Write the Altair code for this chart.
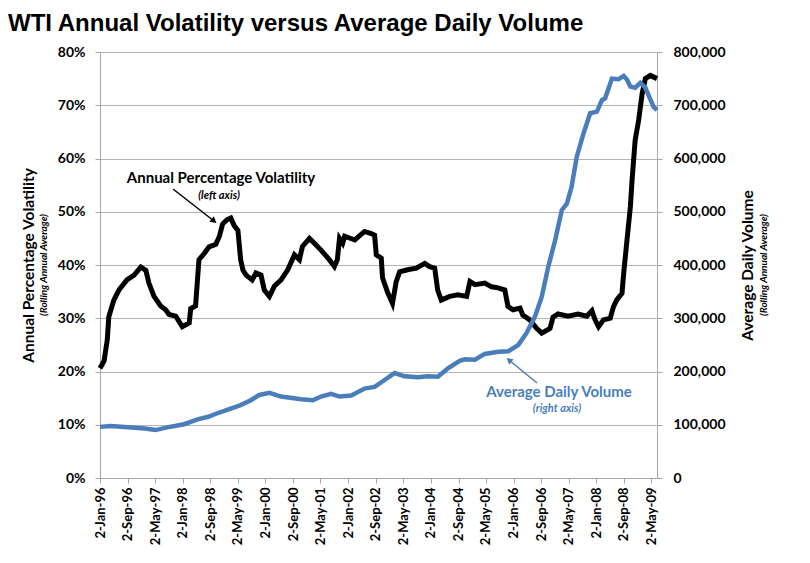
import altair as alt
import pandas as pd

# ---------------- data ----------------
vol_dates = [
    "1996-01-02", "1996-02-07", "1996-03-06", "1996-03-20", "1996-05-03", "1996-06-17",
    "1996-08-27", "1996-10-29", "1996-12-27", "1997-02-10", "1997-03-09", "1997-04-23",
    "1997-06-21", "1997-08-04", "1997-09-03", "1997-11-01", "1997-12-29", "1998-02-28",
    "1998-03-13", "1998-04-25", "1998-05-25", "1998-07-09", "1998-08-22", "1998-10-21",
    "1998-11-20", "1998-12-20", "1999-01-29", "1999-03-02", "1999-04-01", "1999-05-04",
    "1999-05-28", "1999-06-18", "1999-07-15", "1999-09-07", "1999-10-10", "1999-11-24",
    "1999-12-23", "2000-02-06", "2000-03-20", "2000-05-19", "2000-07-17", "2000-09-14",
    "2000-10-28", "2000-11-24", "2001-01-25", "2001-03-09", "2001-05-07", "2001-07-19",
    "2001-09-02", "2001-09-28", "2001-10-17", "2001-11-14", "2001-12-02", "2002-03-01",
    "2002-05-26", "2002-07-24", "2002-08-23", "2002-09-07", "2002-10-21", "2002-11-01",
    "2002-12-15", "2003-01-28", "2003-03-01", "2003-04-01", "2003-06-10", "2003-08-26",
    "2003-11-09", "2003-12-22", "2004-02-05", "2004-03-02", "2004-04-03", "2004-06-16",
    "2004-08-27", "2004-11-13", "2004-12-12", "2005-01-25", "2005-04-22", "2005-06-21",
    "2005-08-19", "2005-10-16", "2005-11-13", "2005-12-28", "2006-02-28", "2006-03-24",
    "2006-05-25", "2006-07-24", "2006-09-07", "2006-11-19", "2006-12-16", "2007-01-29",
    "2007-04-27", "2007-07-25", "2007-10-10", "2007-11-24", "2007-12-22", "2008-01-22",
    "2008-03-05", "2008-05-04", "2008-06-02", "2008-07-02", "2008-08-16", "2008-08-31",
    "2008-09-29", "2008-10-29", "2008-11-13", "2008-12-10", "2009-01-10", "2009-02-10",
    "2009-03-10", "2009-04-23", "2009-06-21",
]
vol_pct = [
    20.6, 22.0, 25.9, 30.3, 33.4, 35.3,
    37.2, 38.1, 39.6, 39.0, 36.6, 34.1,
    32.3, 31.6, 30.7, 30.4, 28.4, 29.1,
    31.8, 32.3, 41.0, 42.1, 43.4, 43.9,
    45.3, 47.7, 48.5, 48.8, 47.4, 46.5,
    41.0, 39.0, 38.1, 37.2, 38.5, 38.1,
    35.3, 34.1, 36.0, 37.2, 39.1, 41.9,
    41.0, 43.5, 45.0, 44.1, 42.8, 41.0,
    39.7, 41.0, 45.0, 44.1, 45.4, 44.7,
    46.3, 45.9, 45.6, 41.9, 41.3, 37.6,
    34.9, 32.8, 36.8, 38.7, 39.1, 39.4,
    40.3, 39.7, 39.4, 35.3, 33.4, 34.1,
    34.4, 34.1, 36.9, 36.3, 36.6, 35.9,
    35.7, 35.3, 32.2, 31.6, 31.9, 30.6,
    29.7, 28.1, 27.2, 28.1, 30.2, 30.8,
    30.4, 30.8, 30.4, 31.4, 29.7, 28.4,
    29.7, 30.0, 32.2, 33.5, 34.7, 38.5,
    44.7, 51.0, 56.0, 63.4, 67.2, 72.2,
    75.0, 75.6, 75.0,
]

adv_dates = [
    "1996-01-02", "1996-04-04", "1996-09-05", "1997-01-30", "1997-05-06", "1997-08-17",
    "1998-01-14", "1998-05-13", "1998-08-15", "1998-11-20", "1999-01-04", "1999-05-28",
    "1999-08-26", "1999-11-09", "2000-02-06", "2000-05-19", "2000-11-13", "2001-02-24",
    "2001-05-07", "2001-08-04", "2001-10-17", "2002-01-29", "2002-05-26", "2002-08-23",
    "2002-11-19", "2003-02-16", "2003-05-14", "2003-09-10", "2003-12-07", "2004-03-04",
    "2004-06-01", "2004-09-13", "2004-10-28", "2005-01-25", "2005-04-22", "2005-08-19",
    "2005-11-16", "2006-02-13", "2006-04-25", "2006-07-09", "2006-09-07", "2006-11-04",
    "2007-01-04", "2007-03-03", "2007-04-17", "2007-05-29", "2007-07-13", "2007-09-11",
    "2007-11-09", "2008-01-07", "2008-02-22", "2008-03-20", "2008-05-04", "2008-05-19",
    "2008-07-17", "2008-08-31", "2008-09-30", "2008-10-29", "2008-12-10", "2009-01-25",
    "2009-03-10", "2009-04-07", "2009-05-22", "2009-06-21",
]
adv_volume = [
    96000, 97500, 95500, 93000, 90000, 95000,
    101000, 110000, 115000, 123000, 126000, 137000,
    146000, 156000, 160000, 153000, 148000, 146000,
    153000, 158000, 153000, 155000, 168000, 171000,
    184000, 197000, 191000, 189000, 191000, 190000,
    206000, 220000, 223000, 222000, 233000, 237000,
    238000, 250000, 272000, 303000, 340000, 397000,
    447000, 503000, 515000, 547000, 603000, 647000,
    685000, 688000, 710000, 713000, 741000, 750000,
    749000, 755000, 748000, 735000, 733000, 742000,
    733000, 719000, 697000, 691000,
]

x_tick_dates = [
    "1996-01-02", "1996-09-02", "1997-05-02", "1998-01-02", "1998-09-02", "1999-05-02",
    "2000-01-02", "2000-09-02", "2001-05-02", "2002-01-02", "2002-09-02", "2003-05-02",
    "2004-01-02", "2004-09-02", "2005-05-02", "2006-01-02", "2006-09-02", "2007-05-02",
    "2008-01-02", "2008-09-02", "2009-05-02",
]
x_domain = ["1996-01-02", "2009-06-21"]
pct_ticks = [0, 10, 20, 30, 40, 50, 60, 70, 80]
volume_ticks = [0, 100000, 200000, 300000, 400000, 500000, 600000, 700000, 800000]

title_text = "WTI Annual Volatility versus Average Daily Volume"
left_title = "Annual Percentage Volatility"
right_title = "Average Daily Volume"
sub_title = "(Rolling Annual Average)"
vol_label = ["Annual Percentage Volatility", "(left axis)"]
adv_label = ["Average Daily Volume", "(right axis)"]

# ---------------- chart ----------------
BLUE = "#4A7EBB"
GRID = "#b4b4b4"
AX = "#a6a6a6"
FONT = "Lato"
W, H = 557, 426


def dt(s):
    y, m, d = (int(v) for v in s.split("-"))
    return alt.DateTime(year=y, month=m, date=d, utc=True)


vol_df = pd.DataFrame({"date": vol_dates, "pct": vol_pct})
adv_df = pd.DataFrame({"date": adv_dates, "volume": adv_volume})

x_axis = alt.Axis(
    values=[dt(s) for s in x_tick_dates],
    format="%-d-%b-%y",
    labelAngle=-90,
    labelFont=FONT,
    labelFontWeight="bold",
    labelFontSize=13,
    labelColor="black",
    labelPadding=4,
    tickSize=5,
    tickColor=AX,
    domainColor=AX,
    grid=False,
    labelOverlap=False,
    labelFlush=False,
)
x_scale = alt.Scale(type="utc", domain=[dt(s) for s in x_domain])

vol_line = alt.Chart(vol_df).mark_line(color="black", strokeWidth=5).encode(
    x=alt.X("date:T", title=None, scale=x_scale, axis=x_axis),
    y=alt.Y(
        "pct:Q",
        scale=alt.Scale(domain=[0, 80], nice=False),
        axis=alt.Axis(
            values=pct_ticks,
            labelExpr="datum.value + '%'",
            title=left_title,
            titleFont=FONT,
            titleFontSize=15.5,
            titleFontWeight="bold",
            titleColor="black",
            titleX=-72,
            titleY=H / 2,
            titleAngle=270,
            titleAlign="center",
            titleBaseline="middle",
            labelFont=FONT,
            labelFontSize=14,
            labelFontWeight="bold",
            labelColor="black",
            labelPadding=10,
            tickSize=5,
            tickColor=AX,
            domainColor=AX,
            grid=True,
            gridColor=GRID,
            gridWidth=1,
        ),
    ),
)

adv_line = alt.Chart(adv_df).mark_line(color=BLUE, strokeWidth=4.5).encode(
    x=alt.X("date:T", title=None, scale=x_scale, axis=x_axis),
    y=alt.Y(
        "volume:Q",
        scale=alt.Scale(domain=[0, 800000], nice=False),
        axis=alt.Axis(
            orient="right",
            values=volume_ticks,
            format=",d",
            title=right_title,
            titleFont=FONT,
            titleFontSize=15.5,
            titleFontWeight="bold",
            titleColor="black",
            titleX=90,
            titleY=H / 2,
            titleAngle=270,
            titleAlign="center",
            titleBaseline="middle",
            labelFont=FONT,
            labelFontSize=14,
            labelFontWeight="bold",
            labelColor="black",
            labelPadding=11,
            tickSize=5,
            tickColor=AX,
            domainColor=AX,
            grid=False,
        ),
    ),
)


def label(txt, x, y, size, color="black", italic=False):
    return alt.Chart(pd.DataFrame({"t": [txt]})).mark_text(
        font=FONT,
        fontSize=size,
        fontWeight="bold",
        fontStyle="italic" if italic else "normal",
        color=color,
        align="center",
        baseline="alphabetic",
    ).encode(text="t:N", x=alt.value(x), y=alt.value(y))


title = alt.Chart(pd.DataFrame({"t": [title_text]})).mark_text(
    font="Liberation Sans", fontSize=24, fontWeight="bold", color="black",
    align="left", baseline="alphabetic",
).encode(text="t:N", x=alt.value(-92), y=alt.value(-21))

left_sub = alt.Chart(pd.DataFrame({"t": [sub_title]})).mark_text(
    font=FONT, fontSize=10, fontWeight="bold", fontStyle="italic", color="black",
    angle=270, align="center", baseline="middle",
).encode(text="t:N", x=alt.value(-56), y=alt.value(H / 2))

right_sub = alt.Chart(pd.DataFrame({"t": [sub_title]})).mark_text(
    font=FONT, fontSize=10, fontWeight="bold", fontStyle="italic", color="black",
    angle=270, align="center", baseline="middle",
).encode(text="t:N", x=alt.value(664), y=alt.value(H / 2))

vol_note = label(vol_label[0], 121, 131, 15)
vol_note2 = label(vol_label[1], 119, 147, 11, italic=True)
adv_note = label(adv_label[0], 459, 345, 15, color=BLUE)
adv_note2 = label(adv_label[1], 457, 360, 11, color=BLUE, italic=True)

one = pd.DataFrame({"k": [0]})
vol_arrow = alt.Chart(one).mark_rule(color="black", strokeWidth=1.5).encode(
    x=alt.value(73), y=alt.value(137), x2=alt.value(114), y2=alt.value(169)
)
vol_head = alt.Chart(one).mark_point(
    shape="triangle-up", filled=True, color="black", size=50, angle=129, opacity=1
).encode(x=alt.value(114), y=alt.value(169))
adv_arrow = alt.Chart(one).mark_rule(color=BLUE, strokeWidth=1.5).encode(
    x=alt.value(437), y=alt.value(331), x2=alt.value(409), y2=alt.value(308)
)
adv_head = alt.Chart(one).mark_point(
    shape="triangle-up", filled=True, color=BLUE, size=50, angle=309, opacity=1
).encode(x=alt.value(409), y=alt.value(308))

chart = (
    alt.layer(
        vol_line, adv_line,
        title, left_sub, right_sub,
        vol_note, vol_note2, adv_note, adv_note2,
        vol_arrow, vol_head, adv_arrow, adv_head,
    )
    .resolve_scale(y="independent")
    .properties(
        width=W,
        height=H,
        autosize=alt.AutoSizeParams(type="none"),
        padding={"left": 92, "top": 44, "right": 145, "bottom": 77},
        background="white",
    )
    .configure_view(stroke=None)
    .configure_axisX(labelOverlap=False)
)

chart.save("out.html", embed_options={"renderer": "svg", "actions": False})
